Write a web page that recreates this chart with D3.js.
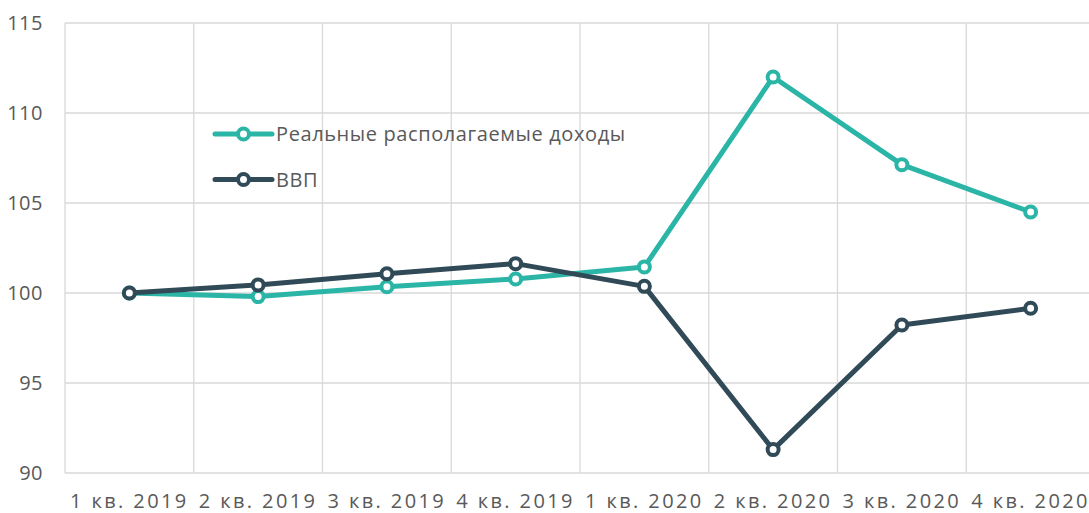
<!DOCTYPE html>
<html>
<head>
<meta charset="utf-8">
<script src="https://cdn.jsdelivr.net/npm/d3@7"></script>
<style>
  body { margin: 0; background: #fff; }
  svg text { font-family: "Open Sans", sans-serif; fill: #595959; }
</style>
</head>
<body>
<div id="chart-container"></div>
<script>
const quarters = ["1 кв. 2019", "2 кв. 2019", "3 кв. 2019", "4 кв. 2019",
                  "1 кв. 2020", "2 кв. 2020", "3 кв. 2020", "4 кв. 2020"];
const income = [100, 99.8, 100.35, 100.78, 101.45, 112.0, 107.13, 104.5];
const gdp = [100, 100.45, 101.07, 101.63, 100.37, 91.3, 98.22, 99.15];
const yTicks = [90, 95, 100, 105, 110, 115];
const seriesNames = ["Реальные располагаемые доходы", "ВВП"];
const seriesColors = ["#2AB5A7", "#314A57"];

const margin = {top: 23, right: 0, bottom: 40, left: 65},
      width = 1030,
      height = 473 - margin.top;

const svg = d3.select("#chart-container")
  .append("svg")
    .attr("width", 1089)
    .attr("height", 513)
  .append("g")
    .attr("transform", "translate(" + margin.left + "," + margin.top + ")");

const x = d3.scaleBand()
  .domain(quarters)
  .range([0, width]);

const y = d3.scaleLinear()
  .domain([90, 115])
  .range([height, 0]);

// horizontal grid
svg.append("g")
  .selectAll("line")
  .data(yTicks)
  .enter()
  .append("line")
    .attr("x1", 0)
    .attr("x2", 1089 - margin.left)
    .attr("y1", d => y(d))
    .attr("y2", d => y(d))
    .style("stroke", "#d9d9d9")
    .style("stroke-width", 1.3);

// vertical grid at band edges
svg.append("g")
  .selectAll("line")
  .data(quarters)
  .enter()
  .append("line")
    .attr("x1", d => x(d))
    .attr("x2", d => x(d))
    .attr("y1", 0)
    .attr("y2", height)
    .style("stroke", "#d9d9d9")
    .style("stroke-width", 1.3);

// y axis labels
const yAxis = svg.append("g")
  .call(d3.axisLeft(y).tickValues(yTicks).tickSize(0).tickPadding(22));
yAxis.select(".domain").remove();
yAxis.selectAll("text")
  .style("font-size", "20px")
  .style("letter-spacing", "0.5px")
  .style("fill", "#595959");

// x axis labels
const xAxis = svg.append("g")
  .attr("transform", "translate(0," + height + ")")
  .call(d3.axisBottom(x).tickSize(0).tickPadding(21));
xAxis.select(".domain").remove();
xAxis.selectAll("text")
  .style("font-size", "20px")
  .style("letter-spacing", "2.4px")
  .style("fill", "#595959");

const line = d3.line()
  .x((d, i) => x(quarters[i]) + x.bandwidth() / 2)
  .y(d => y(d));

[income, gdp].forEach(function(values, k) {
  const color = seriesColors[k];
  svg.append("path")
    .datum(values)
    .attr("d", line)
    .style("fill", "none")
    .style("stroke", color)
    .style("stroke-width", 5)
    .style("stroke-linejoin", "round");
  svg.selectAll()
    .data(values)
    .enter()
    .append("circle")
      .attr("cx", (d, i) => x(quarters[i]) + x.bandwidth() / 2)
      .attr("cy", d => y(d))
      .attr("r", 5.5)
      .style("fill", "#fff")
      .style("stroke", color)
      .style("stroke-width", 4);
});

// legend
const legend = svg.append("g")
  .attr("transform", "translate(150, 111)");
seriesNames.forEach(function(name, i) {
  const g = legend.append("g").attr("transform", "translate(0," + (i * 45.5) + ")");
  g.append("line")
    .attr("x1", 0).attr("x2", 57)
    .style("stroke", seriesColors[i])
    .style("stroke-width", 5)
    .style("stroke-linecap", "round");
  g.append("circle")
    .attr("cx", 28.5)
    .attr("r", 5.5)
    .style("fill", "#fff")
    .style("stroke", seriesColors[i])
    .style("stroke-width", 4);
  g.append("text")
    .attr("x", 61)
    .attr("dy", "0.35em")
    .style("font-size", "20px")
    .style("letter-spacing", "0.6px")
    .text(name);
});
</script>
</body>
</html>
